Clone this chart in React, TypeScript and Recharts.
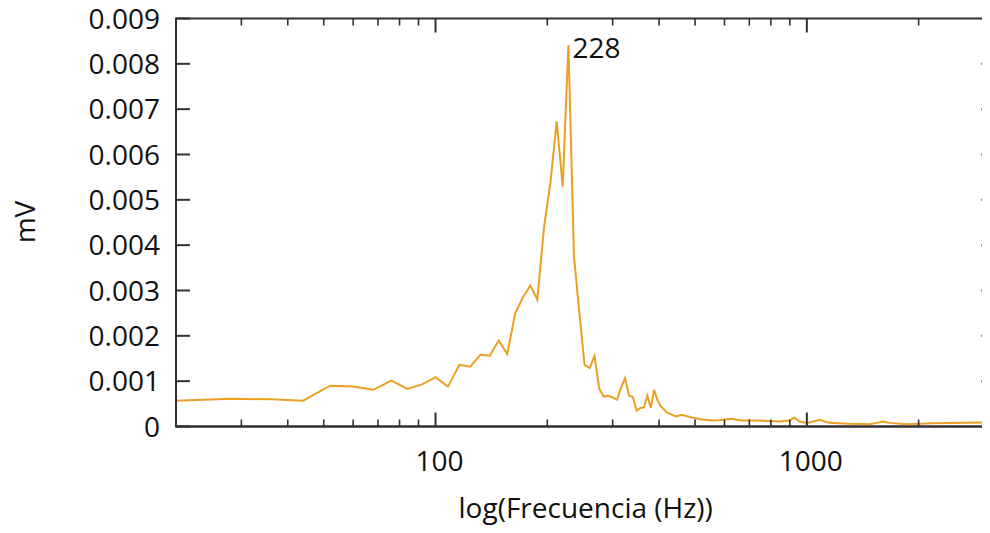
import React from 'react';
import { LineChart, Line, XAxis, YAxis, ReferenceDot, ReferenceArea } from 'recharts';

const freqHz = [
  20, 28, 36, 44, 52, 60, 68, 76, 84, 92, 100, 108, 116, 124, 132, 140, 148, 156, 164, 172,
  180, 188, 196, 204, 212, 220, 228, 236, 244, 252, 260, 268, 276, 284, 292, 300, 308, 316,
  324, 332, 340, 348, 356, 364, 372, 380, 388, 396, 404, 412, 420, 428, 444, 460, 484, 516,
  556, 580, 628, 668, 748, 844, 900, 924, 956, 1004, 1084, 1148, 1300, 1476, 1540, 1604,
  1668, 1852, 2180, 2692, 3108, 3220,
];
const amplitudeMv = [
  0.00057, 0.00061, 0.0006, 0.00057, 0.0009, 0.00088, 0.00081, 0.00101, 0.00083, 0.00093,
  0.00109, 0.00088, 0.00136, 0.00132, 0.00158, 0.00156, 0.0019, 0.0016, 0.0025, 0.00285,
  0.00311, 0.0028, 0.0044, 0.0054, 0.00673, 0.00529, 0.00842, 0.00375, 0.0025, 0.00136,
  0.00129, 0.00156, 0.00083, 0.00066, 0.00068, 0.00064, 0.00059, 0.00085, 0.00107, 0.00068,
  0.00065, 0.00035, 0.00041, 0.00042, 0.00068, 0.00041, 0.00081, 0.00058, 0.00045, 0.00038,
  0.00031, 0.00028, 0.00022, 0.00026, 0.00021, 0.00016, 0.00013, 0.00014, 0.00017, 0.00013,
  0.00013, 0.00011, 0.00013, 0.0002, 0.00011, 0.00008, 0.00015, 0.00008, 0.00006, 0.00005,
  0.00008, 0.00011, 0.00008, 0.00005, 0.00007, 0.00008, 0.00009, 0.00009,
];

const xMajorTicks = [100, 1000];
const xMinorTicks = [20, 30, 40, 50, 60, 70, 80, 90, 200, 300, 400, 500, 600, 700, 800, 900, 2000, 3000];
const xDomain = [20, 3220];
const yTicks = [0, 0.001, 0.002, 0.003, 0.004, 0.005, 0.006, 0.007, 0.008, 0.009];
const yTickLabels = ['0', '0.001', '0.002', '0.003', '0.004', '0.005', '0.006', '0.007', '0.008', '0.009'];
const yDomain = [0, 0.009];
const peakFreq = 228;
const peakValue = 0.00842;
const peakLabel = '228';
const xTitle = 'log(Frecuencia (Hz))';
const yTitle = 'mV';

const data = freqHz.map((f, i) => ({ f, v: amplitudeMv[i] }));
const allXTicks = [...xMinorTicks, ...xMajorTicks].sort((a, b) => a - b);

const FONT = "'Open Sans', 'Noto Sans', sans-serif";
const FS = 28;
const AXIS = '#303030';
const TEXT = '#111';
const LINE = '#EBA024';
const MAJOR = 14;
const MINOR = 7;

const CHART_W = 1010;
const CHART_H = 533;
const MARGIN = { top: 18.5, right: 14.6, bottom: 46.5, left: 0 };
const Y_AXIS_W = 176;
const X_AXIS_H = 60;
const PLOT_W = CHART_W - MARGIN.left - MARGIN.right - Y_AXIS_W;
const PLOT_H = CHART_H - MARGIN.top - MARGIN.bottom - X_AXIS_H;

const BottomTick = (props: any) => {
  const { x, y, payload } = props;
  const major = xMajorTicks.includes(payload.value);
  const len = major ? MAJOR : MINOR;
  const sw = major ? 2 : 1.6;
  return (
    <g>
      <line x1={x} y1={y} x2={x} y2={y - len} stroke={AXIS} strokeWidth={sw} />
      <line x1={x} y1={y - PLOT_H} x2={x} y2={y - PLOT_H + len} stroke={AXIS} strokeWidth={sw} />
      {major && (
        <text x={x + 4} y={y + 44} textAnchor="middle" fontFamily={FONT} fontSize={FS} fill={TEXT}>
          {payload.value}
        </text>
      )}
    </g>
  );
};

const LeftTick = (props: any) => {
  const { x, y, payload, index } = props;
  return (
    <g>
      <line x1={x} y1={y} x2={x + MAJOR} y2={y} stroke={AXIS} strokeWidth={2} />
      <line x1={x + PLOT_W} y1={y} x2={x + PLOT_W - MAJOR} y2={y} stroke={AXIS} strokeWidth={2} />
      <text x={x - 16} y={y} dy="0.36em" textAnchor="end" fontFamily={FONT} fontSize={FS} fill={TEXT}>
        {yTickLabels[yTicks.indexOf(payload.value)] ?? yTickLabels[index]}
      </text>
    </g>
  );
};

export default function App() {
  return (
    <div style={{ margin: -8, width: 990, height: 533, overflow: 'hidden', background: '#fff' }}>
      <LineChart width={CHART_W} height={CHART_H} data={data} margin={MARGIN}>
        <ReferenceArea
          x1={xDomain[0]}
          x2={xDomain[1]}
          y1={yDomain[0]}
          y2={yDomain[1]}
          fill="none"
          stroke={AXIS}
          strokeWidth={2}
          fillOpacity={0}
          strokeOpacity={1}
          ifOverflow="visible"
        />
        <XAxis
          dataKey="f"
          type="number"
          scale="log"
          domain={xDomain}
          allowDataOverflow
          ticks={allXTicks}
          interval={0}
          tickSize={0}
          tickMargin={0}
          tick={<BottomTick />}
          tickLine={false}
          axisLine={{ stroke: AXIS, strokeWidth: 2 }}
          height={X_AXIS_H}
          label={{
            content: (p: any) => {
              const vb = p.viewBox;
              return (
                <text x={vb.x + vb.width / 2} y={vb.y + 91} textAnchor="middle" fontFamily={FONT} fontSize={FS} fill={TEXT}>
                  {xTitle}
                </text>
              );
            },
          }}
        />
        <YAxis
          type="number"
          domain={yDomain}
          allowDataOverflow
          ticks={yTicks}
          interval={0}
          tickSize={0}
          tickMargin={0}
          tick={<LeftTick />}
          tickLine={false}
          axisLine={{ stroke: AXIS, strokeWidth: 2 }}
          width={Y_AXIS_W}
          label={{
            content: () => (
              <text
                x={35}
                y={222}
                transform="rotate(-90 35 222)"
                textAnchor="middle"
                fontFamily={FONT}
                fontSize={FS}
                fill={TEXT}
              >
                {yTitle}
              </text>
            ),
          }}
        />
        <Line
          type="linear"
          dataKey="v"
          stroke={LINE}
          strokeWidth={2}
          dot={false}
          isAnimationActive={false}
        />
        <ReferenceDot
          x={peakFreq}
          y={peakValue}
          r={1}
          fill="none"
          stroke="none"
          label={{
            content: (p: any) => {
              const vb = p.viewBox;
              const cx = vb.x + vb.width / 2;
              const cy = vb.y + vb.height / 2;
              return (
                <text x={cx + 4} y={cy + 13.5} fontFamily={FONT} fontSize={FS} fill={TEXT}>
                  {peakLabel}
                </text>
              );
            },
          }}
        />
      </LineChart>
    </div>
  );
}
